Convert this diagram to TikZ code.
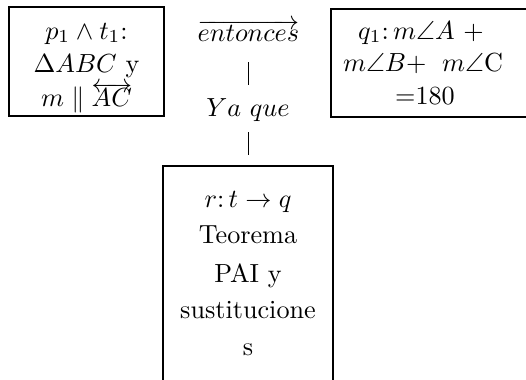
\documentclass[tikz,border=0pt]{standalone}
\usepackage{amsmath,amssymb}
\makeatletter
\newcommand{\myover}[3]{\vbox{\m@th\ialign{##\crcr#1\displaystyle\crcr\noalign{\kern#2\nointerlineskip}$\hfil\displaystyle{#3}\hfil$\crcr}}}
\newcommand{\myrarr}[2]{\myover{\rightarrowfill@}{#1}{#2}}
\newcommand{\mylrarr}[2]{\myover{\leftrightarrowfill@}{#1}{#2}}
\makeatother
\begin{document}
\begin{tikzpicture}[x=0.382pt,y=-0.382pt,
  boxnode/.style={draw=black,line width=0.45pt,rectangle,inner sep=0pt,outer sep=0pt},
  txt/.style={anchor=base,inner sep=0pt,outer sep=0pt,font=\fontsize{10}{12}\selectfont},
  heavy/.style={line width=0.8pt},
  bar/.style={line width=0.35pt}]
\useasboundingbox (0,0) rectangle (526,379);
\clip (0,0) rectangle (526,379);
% boxes
\node[boxnode,minimum width=59.2pt,minimum height=41.6pt] (lbox) at (86.5,61.5) {};
\node[boxnode,minimum width=80pt,minimum height=41.3pt] (rbox) at (435.5,63) {};
\node[boxnode,minimum width=64.9pt,minimum height=89.4pt] (bbox) at (248,283) {};
\draw[heavy] (lbox.north west) -- (lbox.south west) -- (lbox.south east);
\draw[heavy] (rbox.north west) -- (rbox.south west) -- (rbox.south east);
\draw[heavy] (bbox.north east) -- (bbox.south east);
% left box text
\node[txt] (l1) at (86.5,39) {$p_1 \wedge t_1$:};
\node[txt] (l2) at (86.5,72) {$\Delta ABC$ y};
\node[txt] (l3) at (86.5,106) {$m \parallel \mylrarr{-1.5pt}{AC}$};
% right box text
\node[txt] (r1) at (421,39) {$q_1$:\,$m\angle A$ +};
\node[txt] (r2) at (423,71) {$m\angle B$+\hspace{6pt}$m\angle$C};
\node[txt] (r3) at (425,104) {$=$180};
% bottom box text
\node[txt] (b1) at (248,207) {$r$:\,$t \rightarrow q$};
\node[txt] (b2) at (248,243) {Teorema};
\node[txt] (b3) at (248,282) {PAI y};
\node[txt] (b4) at (248,318) {sustitucione};
\node[txt] (b5) at (248,355) {s};
% middle
\node[txt] (ent) at (248.5,41) {$\myrarr{-1.8pt}{entonces}$};
\node[txt] (ya) at (248,116) {$Ya\ que$};
\coordinate (t1) at (248,62);
\coordinate (t2) at (248,85);
\coordinate (t3) at (248,132);
\coordinate (t4) at (248,155);
\draw[bar] (t1) -- (t2);
\draw[bar] (t3) -- (t4);
\end{tikzpicture}
\end{document}
